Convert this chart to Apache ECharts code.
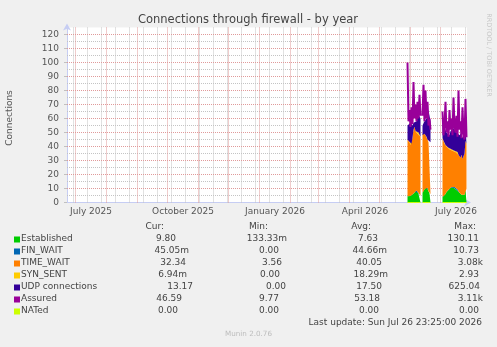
<!DOCTYPE html>
<html><head><meta charset="utf-8">
<script src="https://cdn.jsdelivr.net/npm/echarts@6/dist/echarts.min.js"></script>
<style>html,body{margin:0;padding:0;background:#f0f0f0}#c{width:497px;height:347px}</style>
</head><body><div id="c"></div>
<script>
// ---------- data ----------
const days = [
 '2026-05-29','2026-05-30','2026-05-31','2026-06-01','2026-06-02','2026-06-03','2026-06-04','2026-06-05','2026-06-06','2026-06-07',
 '2026-06-08','2026-06-09','2026-06-10','2026-06-11','2026-06-12','2026-06-13','2026-06-14','2026-06-15','2026-06-16','2026-06-17',
 '2026-06-18','2026-06-19','2026-06-20','2026-06-21','2026-06-22','2026-06-23','2026-06-24','2026-06-25','2026-06-26','2026-06-27',
 '2026-06-28','2026-06-29','2026-06-30','2026-07-01','2026-07-02','2026-07-03','2026-07-04','2026-07-05','2026-07-06','2026-07-07',
 '2026-07-08','2026-07-09','2026-07-10','2026-07-11','2026-07-12','2026-07-13','2026-07-14','2026-07-15','2026-07-16','2026-07-17',
 '2026-07-18','2026-07-19','2026-07-20','2026-07-21','2026-07-22','2026-07-23','2026-07-24','2026-07-25','2026-07-26','2026-07-27'
];
const N = null;
const established = [
 4.5,4.8,5.2,4.6,5.0,5.8,6.4,7.2,7.8,8.6,7.4,6.0,5.2,4.8, N,
 7.0,8.0,9.5,10.8,11.2,10.5,8.0,6.5,6.0, N,N,N,N,N,N,N,N,N,N,N,
 4.0,4.5,5.0,6.0,7.5,8.5,9.0,10.0,10.5,11.0,11.2,10.5,11.0,10.0,9.0,9.5,8.0,7.0,6.0,5.5,6.0,6.5,5.5,9.0,9.8
];
const finWait = [
 0.04,0.04,0.04,0.04,0.04,0.04,0.04,0.04,0.04,0.04,0.04,1.0,0.04,0.04, N,
 0.04,0.04,0.04,0.04,0.04,0.04,0.04,0.04,0.04, N,N,N,N,N,N,N,N,N,N,N,
 0.04,0.04,0.04,0.04,0.04,0.04,0.04,0.04,0.04,0.04,0.04,0.04,0.04,0.04,0.04,0.04,0.04,0.04,0.04,0.04,0.04,0.04,0.04,0.04,0.05
];
const timeWait = [
 40.5,39.2,37.8,36.4,37.0,40.2,45.6,46.8,43.2,41.4,41.6,43.0,42.8,42.2, N,
 41.0,42.0,39.5,37.2,35.8,34.5,35.0,35.5,37.0, N,N,N,N,N,N,N,N,N,N,N,
 42.0,39.5,37.0,35.0,32.5,31.5,30.0,28.0,28.5,27.0,25.8,27.5,26.0,26.0,26.0,26.5,26.0,26.0,26.0,28.5,25.0,26.5,29.5,35.0,32.34
];
const synSent = [
 0.01,0.01,0.01,0.01,0.01,0.01,0.01,0.01,0.01,0.01,0.01,0.01,0.01,0.01, N,
 0.01,0.01,0.01,0.01,0.01,0.01,0.01,0.01,0.01, N,N,N,N,N,N,N,N,N,N,N,
 0.01,0.01,0.01,0.01,0.01,0.01,0.01,0.01,0.01,0.01,0.01,0.01,0.01,0.01,0.01,0.01,0.01,0.01,0.01,0.01,0.01,0.01,0.01,0.01,0.01
];
const udp = [
 10,12,13,16,14,9,5,4,6,8,12,13,14,13, N,
 7,6,9,9,13,19,23,20,15, N,N,N,N,N,N,N,N,N,N,N,
 10,11,12,11,10,9,11,10,12,12,15,15,17,16,15,15,15,15,15,16,15,15,15,11,13.17
];
const assured = [
 100,58,66,54,68,56,86,60,70,58,72,60,77,62, N,
 62,84,58,80,60,72,55,60,52, N,N,N,N,N,N,N,N,N,N,N,
 65,48,55,72,50,58,47,66,52,60,48,75,55,50,62,47,80,52,58,46,68,50,45,74,46.59
];
const nated = [
 0,0,0,0,0,0,0,0,0,0,0,0,0,0, N,
 0,0,0,0,0,0,0,0,0, N,N,N,N,N,N,N,N,N,N,N,
 0,0,0,0,0,0,0,0,0,0,0,0,0,0,0,0,0,0,0,0,0,0,0,0,0
];

const xStart = '2025-06-22T12';
const xEnd = '2026-07-27T12';
const xTickDates = ['2025-07-16','2025-10-16','2026-01-16','2026-04-16','2026-07-16'];
const xTickLabels = ['July 2025','October 2025','January 2026','April 2026','July 2026'];
const yTicks = [0,10,20,30,40,50,60,70,80,90,100,110,120];
const yMax = 125;

const legendNames = ['Established','FIN_WAIT','TIME_WAIT','SYN_SENT','UDP connections','Assured','NATed'];
const legendColors = ['#00CC00','#0066B3','#FF8000','#FFCC00','#330099','#990099','#CCFF00'];
const legendHead = ['Cur:','Min:','Avg:','Max:'];
const legendCur = ['9.80','45.05m','32.34','6.94m','13.17','46.59','0.00'];
const legendMin = ['133.33m','0.00','3.56','0.00','0.00','9.77','0.00'];
const legendAvg = ['7.63','44.66m','40.05','18.29m','17.50','53.18','0.00'];
const legendMax = ['130.11','10.73','3.08k','2.93','625.04','3.11k','0.00'];

// ---------- layout ----------
const FONT = '"DejaVu Sans", sans-serif';
const TXT = '#444';
const headRight = [164,268,371,476];
const cellRight = [
 [176,287,378,479],
 [189,279,387,479],
 [186,282,382,483],
 [187,280,388,479],
 [193,286,382,480],
 [182,279,380,483],
 [178,279,379,479]
];
const rowY = [239,251,263,275,287,299,311];

function ts(s, h) { const a = s.split('T'); const p = a[0].split('-').map(Number); return Date.UTC(p[0], p[1]-1, p[2], a[1] ? Number(a[1]) : (h||0)); }
const tMin = ts(xStart), tMax = ts(xEnd);
const DAY = 86400000;

// grid lines: [x, y, orientation(1=vertical), major]
const gridItems = [];
for (let v = 5; v < 125; v += 10) gridItems.push([tMin, v, 0, 0]);
for (let t = ts('2025-06-29'); t < tMax; t += 14*DAY) gridItems.push([t, 0, 1, 0]);
for (let v = 10; v <= 120; v += 10) gridItems.push([tMin, v, 0, 1]);
for (let y = 2025, m = 6; ; ) { const t = Date.UTC(y, m, 1); if (t > tMax) break; if (t > tMin) gridItems.push([t, 0, 1, 1]); m++; if (m > 11) { m = 0; y++; } }
const gridColors = ['#c4c4c4', '#e09a9a'];

const dayTs = days.map(d => ts(d));
const pairs = arr => arr.map((v,i) => [dayTs[i], v]);

function area(name, arr, color) {
  return {name, type:'line', stack:'total', data:pairs(arr), symbol:'none', showSymbol:false,
    connectNulls:false, lineStyle:{width:0, color}, itemStyle:{color}, areaStyle:{color, opacity:1}, z:2, silent:true};
}

// text graphics
const g = [];
g.push({type:'text', x:248, y:20.5, style:{text:'Connections through firewall - by year', fill:TXT, font:'11.5px '+FONT, align:'center', verticalAlign:'middle'}});
g.push({type:'text', x:10, y:118, rotation:Math.PI/2, style:{text:'Connections', fill:'#555', font:'9px '+FONT, align:'center', verticalAlign:'middle'}});
g.push({type:'text', x:489, y:55, rotation:-Math.PI/2, style:{text:'RRDTOOL / TOBI OETIKER', fill:'#c8c8c8', font:'6.5px '+FONT, align:'center', verticalAlign:'middle'}});
legendHead.forEach((h,j) => g.push({type:'text', x:headRight[j], y:227, style:{text:h, fill:TXT, font:'9px '+FONT, align:'right', verticalAlign:'middle'}}));
const cols = [legendCur, legendMin, legendAvg, legendMax];
legendNames.forEach((n,i) => {
  g.push({type:'rect', shape:{x:14, y:rowY[i]-2.5, width:6, height:6}, style:{fill:legendColors[i]}});
  g.push({type:'text', x:21, y:rowY[i], style:{text:n, fill:TXT, font:'9px '+FONT, align:'left', verticalAlign:'middle'}});
  cols.forEach((c,j) => g.push({type:'text', x:cellRight[i][j], y:rowY[i], style:{text:c[i], fill:TXT, font:'9px '+FONT, align:'right', verticalAlign:'middle'}}));
});
g.push({type:'text', x:482, y:323, style:{text:'Last update: Sun Jul 26 23:25:00 2026', fill:TXT, font:'9px '+FONT, align:'right', verticalAlign:'middle'}});
g.push({type:'text', x:248.5, y:334.5, style:{text:'Munin 2.0.76', fill:'#bdbdbd', font:'7.2px '+FONT, align:'center', verticalAlign:'middle'}});

const xTickTs = xTickDates.map(d => ts(d, 12));
const axisColor = '#c6cdf3';

const option = {
  backgroundColor:'#f0f0f0',
  animation:false,
  textStyle:{fontFamily:FONT},
  grid:{left:67, right:30, top:27.5, bottom:144.5, show:true, backgroundColor:'#ffffff', borderWidth:0},
  xAxis:[
    {type:'time', min:tMin, max:tMax, position:'bottom',
      axisLine:{show:true, onZero:false, lineStyle:{color:axisColor, width:1}, symbol:['none','arrow'], symbolSize:[6,7], symbolOffset:[0,4]},
      axisTick:{show:false}, splitLine:{show:false}, axisLabel:{show:false}},
    {type:'value', min:tMin, max:tMax, position:'bottom', offset:0,
      axisLine:{show:false}, axisTick:{show:false}, splitLine:{show:false},
      axisLabel:{customValues:xTickTs, color:'#555', fontSize:9, fontFamily:FONT, margin:5,
        formatter:(v) => { let bi=0, bd=Infinity; xTickTs.forEach((t,i)=>{const d=Math.abs(t-v); if(d<bd){bd=d;bi=i;}}); return xTickLabels[bi]; }}}
  ],
  yAxis:{type:'value', min:0, max:yMax,
    axisLine:{show:true, onZero:false, lineStyle:{color:axisColor, width:1}, symbol:['none','arrow'], symbolSize:[6,7], symbolOffset:[0,4]},
    axisTick:{show:true, customValues:yTicks, length:3, lineStyle:{color:'#c0c0c0'}},
    splitLine:{show:false},
    axisLabel:{customValues:yTicks, color:'#555', fontSize:9, fontFamily:FONT, margin:8}
  },
  graphic:g,
  series:[
    {name:'grid', type:'custom', coordinateSystem:'cartesian2d', xAxisIndex:0, z:1, silent:true, data:gridItems,
      renderItem:(params, api) => {
        const cs = params.coordSys;
        const vert = api.value(2) === 1;
        const color = gridColors[api.value(3)];
        let shape;
        if (vert) { const x = Math.round(api.coord([api.value(0), 0])[0] - 0.5) + 0.5; shape = {x1:x, y1:cs.y, x2:x, y2:cs.y + cs.height}; }
        else { const y = Math.round(api.coord([tMin, api.value(1)])[1] - 0.5) + 0.5; shape = {x1:cs.x, y1:y, x2:cs.x + cs.width, y2:y}; }
        return {type:'line', shape, style:{stroke:color, lineWidth:1, lineDash:[1,1]}, silent:true};
      }},
    area('Established', established, legendColors[0]),
    area('FIN_WAIT', finWait, legendColors[1]),
    area('TIME_WAIT', timeWait, legendColors[2]),
    area('SYN_SENT', synSent, legendColors[3]),
    area('UDP connections', udp, legendColors[4]),
    {name:'Assured', type:'line', data:pairs(assured), symbol:'none', showSymbol:false, connectNulls:false,
      lineStyle:{width:2, color:legendColors[5]}, z:3, silent:true},
    {name:'NATed', type:'line', data:pairs(nated), symbol:'none', showSymbol:false, connectNulls:false,
      lineStyle:{width:1, color:legendColors[6]}, z:3, silent:true}
  ]
};
const chart = echarts.init(document.getElementById('c'), null, {renderer:'canvas'});
chart.setOption(option);
</script></body></html>
